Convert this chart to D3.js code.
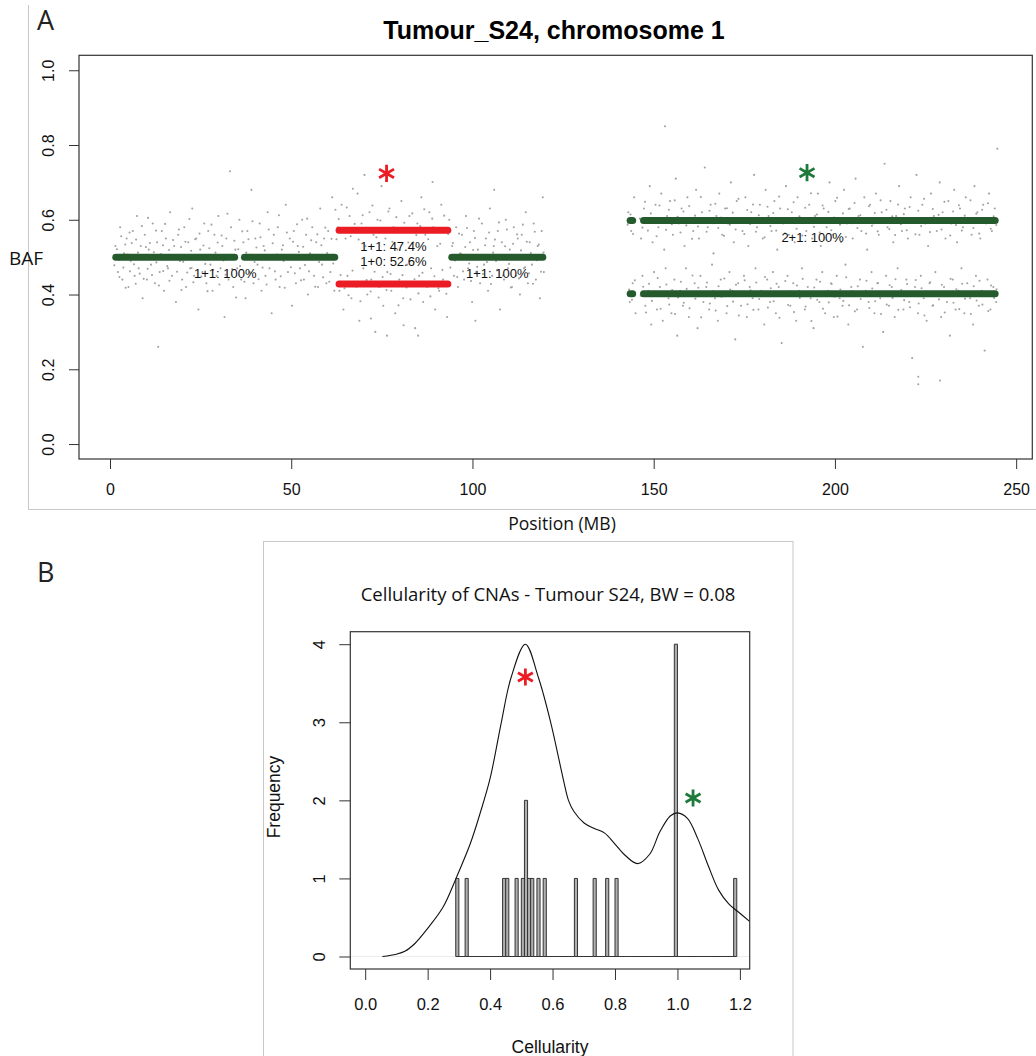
<!DOCTYPE html>
<html><head><meta charset="utf-8">
<script src="https://cdn.jsdelivr.net/npm/d3@7"></script>
<style>body{margin:0;background:#fff}svg{display:block}</style>
</head><body><svg id="chart" width="1036" height="1056"></svg>
<script>
// ---------------- Panel A data ----------------
const chrTitle = "Tumour_S24, chromosome 1";
const posTicks = [0, 50, 100, 150, 200, 250];
const bafTicks = [0.0, 0.2, 0.4, 0.6, 0.8, 1.0];

// copy-number segments (MB, BAF)
const segStartMB  = [1.6, 37.1, 63.2, 94.3, 143.5, 147.2];
const segEndMB    = [34.4, 62.0, 93.2, 119.4, 144.2, 244.2];
const segMajorBAF = [0.5, 0.5, 0.572, 0.5, 0.598, 0.598];
const segMinorBAF = [0.5, 0.5, 0.428, 0.5, 0.402, 0.402];
const segState    = ["clonal", "clonal", "subclonal", "clonal", "clonal", "clonal"];

// segment annotations
const annStartMB = [1.6, 63.2, 94.3, 143.5];
const annEndMB   = [62.0, 93.2, 119.4, 244.2];
const annBAF     = [0.5, 0.572, 0.5, 0.598];
const annText    = [["1+1: 100%"], ["1+1: 47.4%", "1+0: 52.6%"], ["1+1: 100%"], ["2+1: 100%"]];

// starred regions
const starMB    = [76.3, 192.3];
const starBAF   = [0.724, 0.726];
const starState = ["subclonal", "clonal"];

// SNP B-allele frequencies (position MB, BAF)
const snpSeg1 = [[1.5,0.53],[2.2,0.46],[2.8,0.58],[3.4,0.44],[3.9,0.51],[4.6,0.55],[5.1,0.42],[5.7,0.49],[6.3,0.57],[6.8,0.45],[7.4,0.61],[7.9,0.47],[8.5,0.53],[9.0,0.39],[9.6,0.56],[10.2,0.44],[10.7,0.52],[11.3,0.48],[11.8,0.59],[12.4,0.43],[13.3,0.26],[13.0,0.54],[13.7,0.46],[14.3,0.57],[14.9,0.41],[15.4,0.55],[16.0,0.47],[16.6,0.62],[17.1,0.45],[17.7,0.53],[18.2,0.38],[18.8,0.56],[19.3,0.49],[19.9,0.44],[20.5,0.58],[21.0,0.42],[21.6,0.54],[22.1,0.47],[22.7,0.63],[23.2,0.45],[23.8,0.55],[24.4,0.36],[24.9,0.52],[25.5,0.46],[26.0,0.59],[26.6,0.43],[27.1,0.57],[27.7,0.48],[28.3,0.41],[28.8,0.56],[29.4,0.45],[29.9,0.61],[30.5,0.47],[31.0,0.53],[31.6,0.34],[32.1,0.55],[32.7,0.44],[33.1,0.73],[33.4,0.58],[34.0,0.42],[34.6,0.52],[35.1,0.47],[35.7,0.6],[36.2,0.44],[36.8,0.54],[37.4,0.39],[37.9,0.57],[38.5,0.46],[39.0,0.68],[39.6,0.43],[40.1,0.55],[40.7,0.48],[41.3,0.59],[41.8,0.41],[42.4,0.53],[42.9,0.45],[43.5,0.62],[44.0,0.47],[44.6,0.35],[45.2,0.56],[45.7,0.44],[46.3,0.58],[46.8,0.42],[47.4,0.52],[47.9,0.49],[48.5,0.64],[49.1,0.46],[49.6,0.55],[50.2,0.37],[50.7,0.57],[51.3,0.43],[51.8,0.53],[52.4,0.47],[53.0,0.6],[53.5,0.44],[54.1,0.56],[54.6,0.4],[55.2,0.51],[55.8,0.58],[56.3,0.45],[56.9,0.54],[57.4,0.42],[58.0,0.63],[58.5,0.48],[59.1,0.55],[59.7,0.43],[60.2,0.57],[60.8,0.46],[61.3,0.66],[61.9,0.41],
[1.2,0.478],[1.9,0.521],[2.5,0.493],[2.6,0.447],[3.1,0.556],[3.7,0.472],[4.2,0.534],[4.3,0.418],[4.9,0.507],[5.4,0.566],[5.5,0.462],[6.0,0.538],[6.6,0.481],[7.1,0.429],[7.2,0.547],[7.7,0.512],[8.2,0.456],[8.8,0.583],[8.9,0.497],[9.3,0.442],[9.9,0.527],[10.4,0.469],[10.5,0.605],[11.0,0.538],[11.6,0.452],[12.1,0.513],[12.7,0.571],[12.8,0.486],[13.5,0.424],[14.0,0.508],[14.6,0.532],[14.7,0.463],[15.2,0.589],[15.8,0.476],[16.3,0.519],[16.4,0.437],[17.4,0.546],[17.9,0.502],[18.5,0.461],[19.0,0.574],[19.6,0.527],[19.7,0.412],[20.2,0.488],[20.8,0.541],[21.3,0.459],[21.9,0.602],[22.4,0.517],[22.5,0.471],[23.0,0.433],[23.5,0.548],[24.1,0.495],[24.7,0.563],[25.2,0.448],[25.8,0.531],[26.3,0.482],[26.9,0.409],[27.4,0.524],[28.0,0.587],[28.5,0.466],[29.1,0.512],[29.7,0.539],[30.2,0.427],[30.8,0.558],[31.3,0.491],[31.9,0.453],[32.4,0.616],[33.0,0.503],[33.7,0.468],[34.3,0.544],[34.8,0.392],[35.4,0.521],[35.9,0.476],[36.5,0.569],[37.1,0.434],[37.6,0.512],[38.2,0.548],[38.8,0.458],[39.3,0.596],[39.9,0.487],[40.4,0.526],[41.0,0.441],[41.5,0.553],[42.1,0.472],[42.7,0.518],[43.2,0.427],[43.8,0.574],[44.3,0.496],[44.9,0.537],[45.5,0.462],[46.0,0.507],[46.6,0.612],[47.1,0.449],[47.7,0.532],[48.2,0.418],[48.8,0.566],[49.4,0.504],[49.9,0.473],[50.5,0.541],[51.0,0.457],[51.6,0.588],[52.1,0.514],[52.7,0.438],[53.3,0.528],[53.8,0.479],[54.4,0.603],[54.9,0.462],[55.5,0.545],[56.0,0.499],[56.6,0.421],[57.2,0.561],[57.7,0.487],[58.3,0.532],[58.8,0.446],[59.4,0.579],[59.9,0.511],[60.5,0.434],[61.1,0.549],[61.6,0.483],[62.2,0.627]];
const snpSeg2 = [[62.8,0.58],[63.3,0.41],[63.9,0.64],[64.4,0.36],[65.0,0.55],[65.5,0.45],[66.1,0.61],[66.6,0.39],[67.2,0.57],[67.7,0.43],[68.3,0.67],[68.8,0.33],[69.4,0.59],[69.9,0.47],[70.5,0.53],[71.0,0.4],[71.6,0.62],[72.1,0.44],[72.7,0.56],[73.2,0.3],[73.8,0.6],[74.3,0.42],[74.9,0.69],[75.4,0.37],[76.0,0.55],[76.5,0.46],[77.1,0.63],[77.6,0.41],[78.2,0.58],[78.7,0.35],[79.3,0.52],[79.8,0.44],[80.4,0.65],[80.9,0.39],[81.5,0.57],[82.0,0.48],[82.6,0.61],[83.1,0.43],[83.7,0.54],[84.2,0.31],[84.8,0.59],[85.3,0.45],[85.9,0.66],[86.4,0.38],[87.0,0.56],[87.5,0.42],[88.1,0.62],[88.6,0.47],[89.2,0.58],[89.7,0.36],[90.3,0.53],[90.8,0.41],[91.4,0.64],[91.9,0.44],[92.5,0.57],[93.0,0.34],[93.6,0.6],[70.2,0.72],[85.0,0.29],[76.4,0.29],
[62.5,0.548],[63.1,0.602],[63.6,0.452],[64.1,0.571],[64.7,0.417],[65.3,0.633],[65.8,0.398],[66.4,0.556],[66.9,0.464],[67.5,0.589],[68.0,0.421],[68.6,0.547],[69.1,0.382],[69.7,0.612],[70.8,0.439],[71.3,0.576],[71.9,0.408],[72.4,0.638],[73.0,0.461],[73.5,0.553],[74.1,0.392],[74.6,0.598],[75.2,0.447],[75.7,0.571],[76.3,0.412],[76.8,0.622],[77.4,0.455],[77.9,0.541],[78.5,0.428],[79.0,0.607],[79.6,0.371],[80.1,0.566],[80.7,0.452],[81.2,0.592],[81.8,0.419],[82.3,0.539],[82.9,0.387],[83.4,0.617],[84.0,0.441],[84.5,0.559],[85.1,0.403],[85.6,0.583],[86.2,0.458],[86.7,0.628],[87.3,0.426],[87.8,0.548],[88.4,0.395],[88.9,0.603],[89.5,0.449],[90.0,0.574],[90.6,0.417],[91.1,0.536],[91.7,0.466],[92.2,0.611],[92.8,0.402],[93.3,0.562],[67.0,0.683],[81.0,0.318],[89.0,0.701],[72.0,0.336]];
const snpSeg3 = [[94.4,0.53],[94.9,0.45],[95.5,0.58],[96.0,0.42],[96.6,0.51],[97.1,0.56],[97.7,0.44],[98.2,0.61],[98.8,0.47],[99.3,0.54],[99.9,0.38],[100.4,0.57],[101.0,0.46],[101.5,0.52],[102.1,0.43],[102.6,0.59],[103.2,0.48],[103.7,0.55],[104.3,0.41],[104.8,0.63],[105.4,0.45],[105.9,0.53],[106.5,0.49],[107.0,0.57],[107.6,0.36],[108.1,0.54],[108.7,0.44],[109.2,0.6],[109.8,0.47],[110.3,0.52],[110.9,0.42],[111.4,0.58],[112.0,0.45],[112.5,0.55],[113.1,0.4],[113.6,0.56],[114.2,0.47],[114.7,0.62],[115.3,0.43],[115.8,0.54],[116.4,0.48],[116.9,0.59],[117.5,0.44],[118.0,0.53],[118.6,0.39],[119.1,0.57],[119.4,0.66],[119.7,0.46],[106.0,0.68],[100.8,0.33],
[93.9,0.472],[94.6,0.538],[95.2,0.491],[95.8,0.447],[96.3,0.563],[96.9,0.508],[97.4,0.462],[98.0,0.527],[98.5,0.578],[99.1,0.483],[99.6,0.436],[100.2,0.519],[100.7,0.551],[101.3,0.474],[101.8,0.603],[102.4,0.498],[102.9,0.455],[103.5,0.532],[104.0,0.487],[104.6,0.566],[105.1,0.428],[105.7,0.512],[106.2,0.547],[106.8,0.466],[107.3,0.593],[107.9,0.503],[108.4,0.451],[109.0,0.529],[109.5,0.574],[110.1,0.482],[110.6,0.419],[111.2,0.536],[111.7,0.496],[112.3,0.561],[112.8,0.443],[113.4,0.518],[113.9,0.587],[114.5,0.473],[115.0,0.541],[115.6,0.457],[116.1,0.511],[116.7,0.429],[117.2,0.568],[117.8,0.492],[118.3,0.534],[118.9,0.461],[119.6,0.512]];
const snpSeg4Upper = [[143.0,0.62],[143.8,0.57],[144.6,0.66],[146.5,0.55],[147.3,0.63],[148.1,0.6],[148.9,0.69],[149.7,0.54],[150.5,0.64],[151.3,0.58],[152.1,0.67],[152.9,0.52],[153.1,0.85],[153.7,0.61],[154.5,0.65],[155.3,0.56],[156.1,0.71],[156.9,0.59],[157.7,0.63],[158.5,0.53],[159.3,0.66],[160.1,0.6],[160.9,0.57],[161.7,0.68],[162.5,0.55],[163.3,0.62],[164.1,0.74],[164.9,0.58],[165.7,0.64],[166.5,0.51],[167.3,0.61],[168.1,0.67],[168.9,0.56],[169.7,0.63],[170.5,0.59],[171.3,0.7],[172.1,0.54],[172.9,0.65],[173.7,0.6],[174.5,0.57],[175.3,0.66],[176.1,0.53],[176.9,0.62],[177.7,0.72],[178.5,0.58],[179.3,0.64],[180.1,0.55],[180.9,0.68],[181.7,0.61],[182.5,0.57],[183.3,0.65],[184.1,0.52],[184.9,0.63],[185.7,0.59],[186.5,0.69],[187.3,0.56],[188.1,0.62],[188.9,0.54],[189.7,0.66],[190.5,0.6],[191.3,0.73],[192.1,0.57],[192.9,0.64],[193.7,0.55],[194.5,0.61],[195.3,0.67],[196.1,0.53],[196.9,0.63],[197.7,0.58],[198.5,0.7],[199.3,0.56],[200.1,0.65],[200.9,0.6],[201.7,0.54],[202.5,0.68],[203.3,0.59],[204.1,0.63],[204.9,0.55],[205.7,0.71],[206.5,0.61],[207.3,0.57],[208.1,0.66],[208.9,0.52],[209.7,0.64],[210.5,0.59],[211.3,0.67],[212.1,0.56],[212.9,0.62],[213.7,0.75],[214.5,0.58],[215.3,0.65],[216.1,0.54],[216.9,0.61],[217.7,0.69],[218.5,0.57],[219.3,0.63],[220.1,0.55],[220.9,0.66],[221.7,0.6],[222.5,0.72],[223.3,0.56],[224.1,0.64],[224.9,0.59],[225.7,0.53],[226.5,0.67],[227.3,0.61],[228.1,0.57],[228.9,0.7],[229.7,0.62],[230.5,0.55],[231.3,0.65],[232.1,0.59],[232.9,0.68],[233.7,0.54],[234.5,0.63],[235.3,0.58],[236.1,0.66],[236.9,0.6],[237.7,0.56],[238.5,0.69],[239.3,0.62],[240.1,0.55],[240.9,0.64],[241.7,0.59],[242.5,0.67],[243.3,0.57],[244.1,0.63],[244.8,0.6],[244.8,0.79],
[142.8,0.587],[143.6,0.614],[144.3,0.562],[146.2,0.603],[146.9,0.579],[147.6,0.648],[148.4,0.571],[149.2,0.617],[150.0,0.594],[150.8,0.556],[151.6,0.638],[152.4,0.601],[153.4,0.573],[154.2,0.627],[155.0,0.588],[155.8,0.652],[156.6,0.608],[157.4,0.566],[158.2,0.622],[159.0,0.585],[159.8,0.637],[160.6,0.549],[161.4,0.611],[162.2,0.582],[163.0,0.661],[163.8,0.597],[164.6,0.568],[165.4,0.624],[166.2,0.591],[167.0,0.643],[167.8,0.578],[168.6,0.606],[169.4,0.557],[170.2,0.631],[171.0,0.587],[171.8,0.619],[172.6,0.574],[173.4,0.656],[174.2,0.601],[175.0,0.562],[175.8,0.626],[176.6,0.589],[177.4,0.641],[178.2,0.568],[179.0,0.612],[179.8,0.594],[180.6,0.553],[181.4,0.635],[182.2,0.583],[183.0,0.618],[183.8,0.571],[184.6,0.662],[185.4,0.598],[186.2,0.564],[187.0,0.628],[187.8,0.592],[188.6,0.647],[189.4,0.576],[190.2,0.609],[191.0,0.558],[191.8,0.632],[192.6,0.596],[193.4,0.671],[194.2,0.581],[195.0,0.614],[195.8,0.566],[196.6,0.638],[197.4,0.593],[198.2,0.621],[199.0,0.572],[199.8,0.606],[200.6,0.659],[201.4,0.587],[202.2,0.617],[203.0,0.554],[203.8,0.629],[204.6,0.591],[205.4,0.645],[206.2,0.578],[207.0,0.612],[207.8,0.597],[208.6,0.563],[209.4,0.636],[210.2,0.584],[211.0,0.618],[211.8,0.569],[212.6,0.652],[213.4,0.598],[214.2,0.627],[215.0,0.575],[215.8,0.609],[216.6,0.559],[217.4,0.641],[218.2,0.588],[219.0,0.615],[219.8,0.572],[220.6,0.634],[221.4,0.594],[222.2,0.561],[223.0,0.624],[223.8,0.583],[224.6,0.656],[225.4,0.603],[226.2,0.567],[227.0,0.629],[227.8,0.592],[228.6,0.613],[229.4,0.574],[230.2,0.648],[231.0,0.601],[231.8,0.558],[232.6,0.622],[233.4,0.586],[234.2,0.639],[235.0,0.571],[235.8,0.611],[236.6,0.594],[237.4,0.652],[238.2,0.578],[239.0,0.616],[239.8,0.563],[240.6,0.627],[241.4,0.598],[242.2,0.644],[243.0,0.576],[243.8,0.609],[244.5,0.586]];
const snpSeg4Lower = [[143.4,0.38],[144.2,0.43],[145.0,0.35],[146.9,0.45],[147.7,0.37],[148.5,0.41],[149.3,0.32],[150.1,0.46],[150.9,0.36],[151.7,0.42],[152.5,0.33],[153.3,0.47],[154.1,0.39],[154.9,0.35],[155.7,0.44],[156.5,0.29],[157.3,0.41],[158.1,0.37],[158.9,0.47],[159.7,0.34],[160.5,0.4],[161.3,0.43],[162.1,0.31],[162.9,0.45],[163.7,0.38],[164.5,0.42],[165.3,0.36],[166.1,0.48],[166.9,0.39],[167.7,0.33],[168.5,0.44],[169.3,0.4],[170.1,0.35],[170.9,0.46],[171.7,0.41],[172.5,0.28],[173.3,0.43],[174.1,0.37],[174.9,0.45],[175.7,0.34],[176.5,0.42],[177.3,0.39],[178.1,0.47],[178.9,0.36],[179.7,0.41],[180.5,0.32],[181.3,0.44],[182.1,0.38],[182.9,0.46],[183.7,0.35],[184.5,0.42],[185.3,0.27],[186.1,0.4],[186.9,0.45],[187.7,0.37],[188.5,0.43],[189.3,0.33],[190.1,0.41],[190.9,0.47],[191.7,0.36],[192.5,0.42],[193.3,0.39],[194.1,0.31],[194.9,0.44],[195.7,0.38],[196.5,0.46],[197.3,0.35],[198.1,0.41],[198.9,0.43],[199.7,0.34],[200.5,0.45],[201.3,0.39],[202.1,0.37],[202.9,0.48],[203.7,0.32],[204.5,0.42],[205.3,0.4],[206.1,0.36],[206.9,0.44],[207.7,0.26],[208.5,0.41],[209.3,0.38],[210.1,0.46],[210.9,0.35],[211.7,0.43],[212.5,0.39],[213.3,0.3],[214.1,0.45],[214.9,0.37],[215.7,0.42],[216.5,0.34],[217.3,0.47],[218.1,0.4],[218.9,0.36],[219.7,0.44],[220.5,0.38],[221.3,0.23],[222.1,0.42],[222.9,0.35],[223.0,0.18],[223.0,0.16],[223.7,0.45],[224.5,0.39],[225.3,0.33],[226.1,0.43],[226.9,0.37],[227.7,0.46],[228.5,0.4],[229.0,0.17],[229.3,0.34],[230.1,0.42],[230.9,0.38],[231.7,0.29],[232.5,0.44],[233.3,0.36],[234.1,0.41],[234.9,0.47],[235.7,0.35],[236.5,0.43],[237.3,0.39],[238.1,0.32],[238.9,0.45],[239.7,0.37],[240.5,0.41],[241.3,0.25],[242.1,0.44],[242.9,0.36],[243.7,0.42],[244.5,0.38],
[143.2,0.413],[144.0,0.386],[144.8,0.438],[146.4,0.397],[147.1,0.421],[147.9,0.352],[148.7,0.429],[149.5,0.383],[150.3,0.406],[151.1,0.444],[151.9,0.362],[152.7,0.399],[153.5,0.427],[154.3,0.373],[155.1,0.412],[155.9,0.348],[156.7,0.392],[157.5,0.434],[158.3,0.378],[159.1,0.415],[159.9,0.363],[160.7,0.451],[161.5,0.389],[162.3,0.418],[163.1,0.339],[163.9,0.403],[164.7,0.432],[165.5,0.376],[166.3,0.409],[167.1,0.357],[167.9,0.422],[168.7,0.394],[169.5,0.443],[170.3,0.369],[171.1,0.413],[171.9,0.381],[172.7,0.426],[173.5,0.344],[174.3,0.399],[175.1,0.438],[175.9,0.374],[176.7,0.411],[177.5,0.359],[178.3,0.432],[179.1,0.388],[179.9,0.406],[180.7,0.447],[181.5,0.365],[182.3,0.417],[183.1,0.382],[183.9,0.429],[184.7,0.338],[185.5,0.402],[186.3,0.436],[187.1,0.372],[187.9,0.408],[188.7,0.353],[189.5,0.424],[190.3,0.391],[191.1,0.442],[191.9,0.368],[192.7,0.404],[193.5,0.329],[194.3,0.419],[195.1,0.386],[195.9,0.434],[196.7,0.362],[197.5,0.407],[198.3,0.379],[199.1,0.428],[199.9,0.394],[200.7,0.341],[201.5,0.413],[202.3,0.383],[203.1,0.446],[203.9,0.371],[204.7,0.409],[205.5,0.355],[206.3,0.422],[207.1,0.388],[207.9,0.403],[208.7,0.437],[209.5,0.364],[210.3,0.416],[211.1,0.382],[211.9,0.431],[212.7,0.348],[213.5,0.402],[214.3,0.373],[215.1,0.425],[215.9,0.391],[216.7,0.441],[217.5,0.359],[218.3,0.412],[219.1,0.385],[219.9,0.428],[220.7,0.366],[221.5,0.406],[222.3,0.439],[223.1,0.376],[223.9,0.417],[224.7,0.344],[225.5,0.397],[226.3,0.433],[227.1,0.371],[227.9,0.408],[228.7,0.387],[229.5,0.426],[230.3,0.352],[231.1,0.399],[231.9,0.442],[232.7,0.378],[233.5,0.414],[234.3,0.361],[235.1,0.429],[235.9,0.389],[236.7,0.406],[237.5,0.348],[238.3,0.422],[239.1,0.384],[239.9,0.437],[240.7,0.373],[241.5,0.402],[242.3,0.356],[243.1,0.424],[243.9,0.391],[244.6,0.414]];

// ---------------- Panel B data ----------------
const cellTitle = "Cellularity of CNAs - Tumour S24, BW = 0.08";
const cellTicks = [0.0, 0.2, 0.4, 0.6, 0.8, 1.0, 1.2];
const freqTicks = [0, 1, 2, 3, 4];
const histBinWidth = 0.01;
const histFirstBin = 0.29;
const histLastBin  = 1.18;
const histStart = [0.29, 0.32, 0.44, 0.45, 0.48, 0.50, 0.51, 0.52, 0.53, 0.55, 0.57, 0.67, 0.73, 0.77, 0.80, 0.99, 1.18];
const histCount = [1, 1, 1, 1, 1, 1, 2, 1, 1, 1, 1, 1, 1, 1, 1, 4, 1];
const densX = [0.055, 0.10, 0.127, 0.16, 0.2, 0.249, 0.293, 0.337, 0.37, 0.40, 0.436, 0.467, 0.513, 0.555, 0.594, 0.635, 0.651, 0.668, 0.701, 0.734, 0.767, 0.80, 0.834, 0.872, 0.911, 0.944, 0.977, 1.0, 1.032, 1.065, 1.099, 1.132, 1.165, 1.198, 1.231];
const densY = [0.0, 0.03, 0.067, 0.17, 0.36, 0.63, 1.02, 1.45, 1.86, 2.28, 3.0, 3.57, 4.0, 3.57, 3.0, 2.26, 2.0, 1.86, 1.71, 1.64, 1.58, 1.44, 1.29, 1.19, 1.31, 1.60, 1.80, 1.84, 1.77, 1.51, 1.16, 0.85, 0.67, 0.56, 0.45];
const cellStarX = [0.513, 1.05];
const cellStarY = [3.58, 2.03];
const cellStarState = ["subclonal", "clonal"];

// ---------------- styles ----------------
const segColor  = {clonal: "#245a2c", subclonal: "#ec1c24"};
const starColor = {clonal: "#1d7a3b", subclonal: "#ec1c24"};
const ARIAL = "'Liberation Sans', Arial, sans-serif";
const MYRIAD = "'Open Sans', 'Noto Sans', sans-serif";
const AXC = "#333";

const svg = d3.select("#chart");
svg.append("rect").attr("width", 1036).attr("height", 1056).attr("fill", "#fff");

// panel frames
svg.append("path").attr("d", "M28.5,5V509.5H1036").attr("fill", "none").attr("stroke", "#c8c8c8");
svg.append("rect").attr("x", 263.5).attr("y", 541.5).attr("width", 529.5).attr("height", 600)
  .attr("fill", "none").attr("stroke", "#c8c8c8");
svg.append("text").attr("x", 37).attr("y", 29.5).text("A")
  .style("font-family", MYRIAD).style("font-size", "27px").attr("fill", "#222");
svg.append("text").attr("x", 37).attr("y", 582).text("B")
  .style("font-family", MYRIAD).style("font-size", "27px").attr("fill", "#222");

// ================= Panel A =================
const A = {l: 79, r: 1032.3, t: 55.3, b: 459};
const xA = d3.scaleLinear().domain([-8.55, 254.45]).range([A.l, A.r]);
const yA = d3.scaleLinear().domain([-0.04, 1.04]).range([A.b, A.t]);
const gA = svg.append("g");

// SNP cloud
const snps = [].concat(snpSeg1, snpSeg2, snpSeg3, snpSeg4Upper, snpSeg4Lower);
gA.append("g").selectAll("circle").data(snps).join("circle")
  .attr("cx", d => xA(d[0])).attr("cy", d => yA(d[1])).attr("r", 1.05)
  .attr("fill", "#a3a3a3");

// segments
const segs = segStartMB.map((s, i) => ({s, e: segEndMB[i], maj: segMajorBAF[i], min: segMinorBAF[i], st: segState[i]}));
const segLines = [];
segs.forEach(d => {
  segLines.push({s: d.s, e: d.e, v: d.maj, st: d.st});
  if (d.min !== d.maj) segLines.push({s: d.s, e: d.e, v: d.min, st: d.st});
});
gA.append("g").selectAll("line").data(segLines).join("line")
  .attr("x1", d => xA(d.s)).attr("x2", d => xA(d.e))
  .attr("y1", d => yA(d.v)).attr("y2", d => yA(d.v))
  .attr("stroke", d => segColor[d.st]).attr("stroke-width", 7).attr("stroke-linecap", "round");

// segment labels
annText.forEach((lines, i) => {
  const cx = xA((annStartMB[i] + annEndMB[i]) / 2);
  const y0 = yA(annBAF[i]) + 21;
  lines.forEach((t, j) => {
    gA.append("text").attr("x", cx).attr("y", y0 + j * 14.7).attr("text-anchor", "middle")
      .style("font-family", ARIAL).style("font-size", "13px").attr("fill", "#111").text(t);
  });
});

// stars
const star = d3.symbol().type(d3.symbolAsterisk).size(209);
starMB.forEach((m, i) => {
  gA.append("path").attr("d", star())
    .attr("transform", `translate(${xA(m)},${yA(starBAF[i])})`)
    .attr("fill", "none").attr("stroke", starColor[starState[i]]).attr("stroke-width", 2.8);
});

// axes A
const axXA = gA.append("g").attr("transform", `translate(0,${A.b})`)
  .call(d3.axisBottom(xA).tickValues(posTicks).tickSize(10).tickSizeOuter(0).tickFormat(d3.format("d")));
axXA.select(".domain").remove();
axXA.selectAll("line").attr("stroke", AXC);
axXA.selectAll("text").attr("y", 36).attr("dy", 0)
  .style("font-family", ARIAL).style("font-size", "16px").attr("fill", "#111");

const axYA = gA.append("g").attr("transform", `translate(${A.l},0)`)
  .call(d3.axisLeft(yA).tickValues(bafTicks).tickSize(10).tickSizeOuter(0).tickFormat(d3.format(".1f")));
axYA.select(".domain").remove();
axYA.selectAll("line").attr("stroke", AXC);
axYA.selectAll("text").attr("transform", "rotate(-90)").attr("x", 0).attr("y", -24.7).attr("dy", 0)
  .style("text-anchor", "middle").style("font-family", ARIAL).style("font-size", "16px").attr("fill", "#111");

gA.append("rect").attr("x", A.l).attr("y", A.t).attr("width", A.r - A.l).attr("height", A.b - A.t)
  .attr("fill", "none").attr("stroke", AXC).attr("stroke-width", 1.2);

gA.append("text").attr("x", 554).attr("y", 38.5).attr("text-anchor", "middle")
  .style("font-family", ARIAL).style("font-size", "25px").style("font-weight", "bold").attr("fill", "#000")
  .text(chrTitle);
gA.append("text").attr("x", 9).attr("y", 265).text("BAF")
  .style("font-family", MYRIAD).style("font-size", "19px").attr("fill", "#111");
gA.append("text").attr("x", 562).attr("y", 530).attr("text-anchor", "middle").text("Position (MB)")
  .style("font-family", MYRIAD).style("font-size", "17.5px").attr("fill", "#111");

// ================= Panel B =================
const B = {l: 350.3, r: 749.7, t: 631.7, b: 969};
const xB = d3.scaleLinear().domain([-0.0477, 1.2314]).range([B.l, B.r]);
const yB = d3.scaleLinear().domain([-0.16, 4.16]).range([B.b, B.t]);
const gB = svg.append("g");

// faint zero line
gB.append("line").attr("x1", B.l).attr("x2", B.r).attr("y1", yB(0)).attr("y2", yB(0))
  .attr("stroke", "#ececec");

// histogram bins (zero-count bins drawn as flat outlines, like R)
const nBins = Math.round((histLastBin - histFirstBin) / histBinWidth) + 1;
const bins = d3.range(nBins).map(k => {
  const s = +(histFirstBin + k * histBinWidth).toFixed(2);
  const idx = histStart.findIndex(v => Math.abs(v - s) < 1e-6);
  return {s, e: s + histBinWidth, c: idx >= 0 ? histCount[idx] : 0};
});
gB.append("g").selectAll("path").data(bins).join("path")
  .attr("d", d => `M${xB(d.s)},${yB(0)}H${xB(d.e)}V${yB(d.c)}H${xB(d.s)}Z`)
  .attr("fill", "#b0b0b0").attr("stroke", "#333").attr("stroke-width", 1);

// density curve
const dens = densX.map((x, i) => [x, densY[i]]);
gB.append("path").datum(dens)
  .attr("d", d3.line().x(d => xB(d[0])).y(d => yB(d[1])).curve(d3.curveCatmullRom.alpha(0.5)))
  .attr("fill", "none").attr("stroke", "#111").attr("stroke-width", 1.1);

// stars
cellStarX.forEach((x, i) => {
  gB.append("path").attr("d", star())
    .attr("transform", `translate(${xB(x)},${yB(cellStarY[i])})`)
    .attr("fill", "none").attr("stroke", starColor[cellStarState[i]]).attr("stroke-width", 2.8);
});

// axes B
const axXB = gB.append("g").attr("transform", `translate(0,${B.b})`)
  .call(d3.axisBottom(xB).tickValues(cellTicks).tickSize(11).tickSizeOuter(0).tickFormat(d3.format(".1f")));
axXB.select(".domain").remove();
axXB.selectAll("line").attr("stroke", AXC);
axXB.selectAll("text").attr("y", 41).attr("dy", 0)
  .style("font-family", ARIAL).style("font-size", "16.5px").attr("fill", "#111");

const axYB = gB.append("g").attr("transform", `translate(${B.l},0)`)
  .call(d3.axisLeft(yB).tickValues(freqTicks).tickSize(11).tickSizeOuter(0).tickFormat(d3.format("d")));
axYB.select(".domain").remove();
axYB.selectAll("line").attr("stroke", AXC);
axYB.selectAll("text").attr("transform", "rotate(-90)").attr("x", 0).attr("y", -25.5).attr("dy", 0)
  .style("text-anchor", "middle").style("font-family", ARIAL).style("font-size", "16.5px").attr("fill", "#111");

gB.append("rect").attr("x", B.l).attr("y", B.t).attr("width", B.r - B.l).attr("height", B.b - B.t)
  .attr("fill", "none").attr("stroke", AXC).attr("stroke-width", 1.2);

gB.append("text").attr("x", 548).attr("y", 601).attr("text-anchor", "middle").text(cellTitle)
  .style("font-family", MYRIAD).style("font-size", "18.5px").attr("fill", "#111");
gB.append("text").attr("x", 550).attr("y", 1053).attr("text-anchor", "middle").text("Cellularity")
  .style("font-family", ARIAL).style("font-size", "17.5px").attr("fill", "#111");
gB.append("text").attr("transform", "translate(280,797) rotate(-90)").attr("text-anchor", "middle")
  .text("Frequency").style("font-family", ARIAL).style("font-size", "17.5px").attr("fill", "#111");
</script></body></html>
